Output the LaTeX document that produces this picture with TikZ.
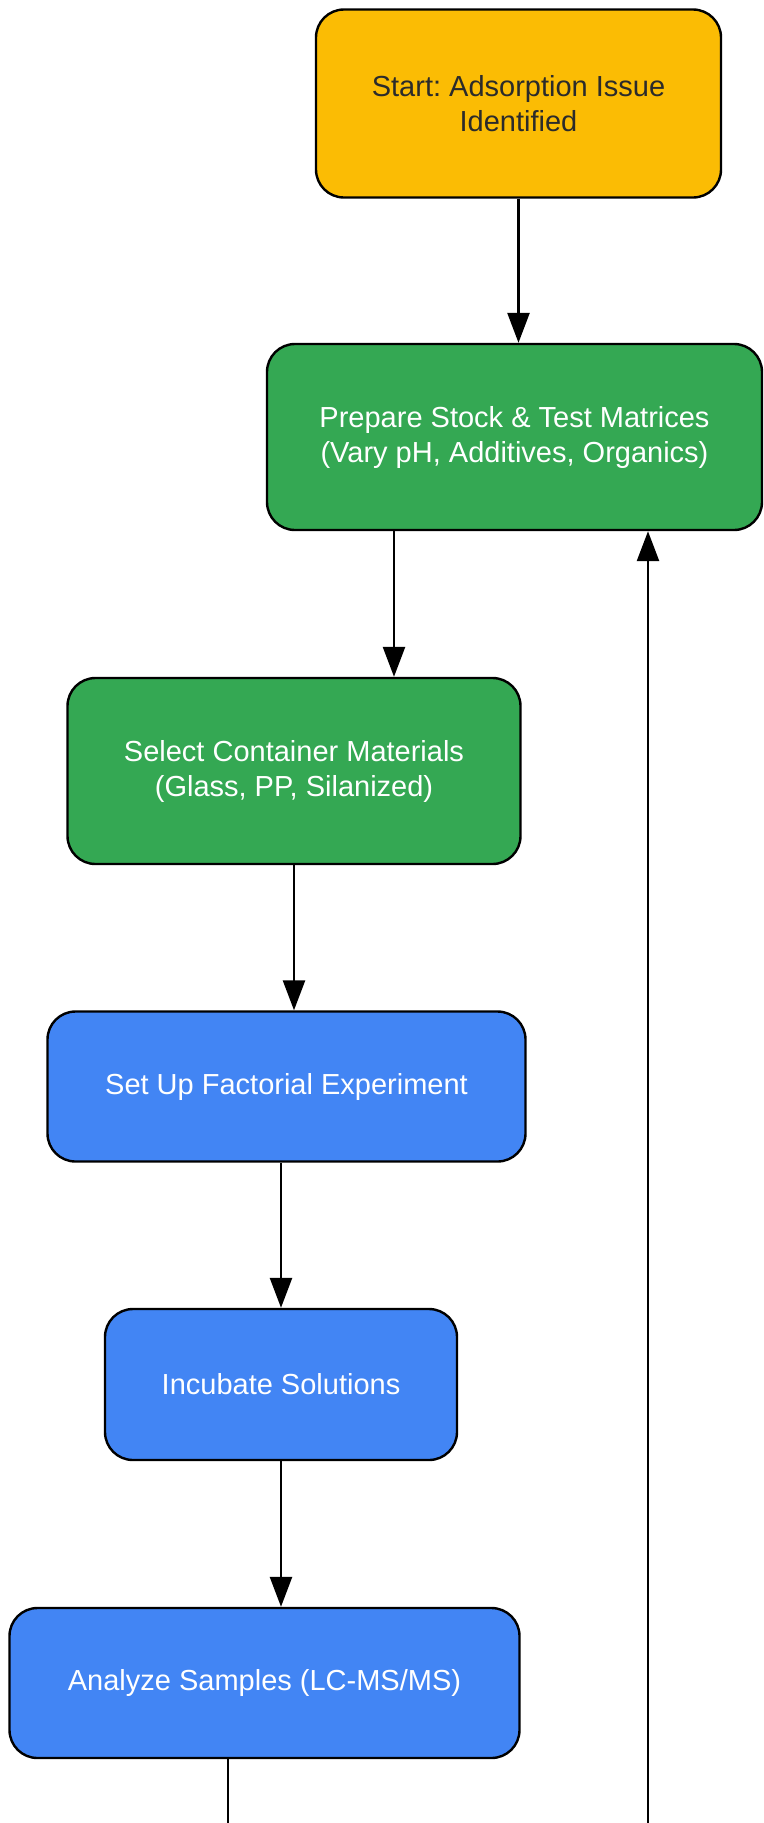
\documentclass[tikz,border=0pt]{standalone}
\usepackage{fontspec}
\setmainfont{Liberation Sans}
\usetikzlibrary{arrows.meta,positioning}
\definecolor{startyellow}{HTML}{FBBC04}
\definecolor{prepgreen}{HTML}{34A853}
\definecolor{runblue}{HTML}{4285F4}
\definecolor{darktext}{HTML}{2B2B2B}
\frenchspacing

\begin{document}
\begin{tikzpicture}[x=1pt,y=-1pt,
        box/.style={draw=black,line width=2.4pt,rounded corners=28pt,align=center,
            inner sep=0pt,text=white,font=\fontsize{29}{35}\selectfont},
        flow/.style={line width=2.6pt,-{Triangle[length=30pt,width=22pt]}}]
    \useasboundingbox (0,0) rectangle (763,1823);
    \node[box,fill=startyellow,text=darktext,minimum width=405pt,minimum height=188pt]
        (start) at (518.5,103.5) {Start: Adsorption Issue\\Identified};
    \node[box,fill=prepgreen,minimum width=495pt,minimum height=186pt]
        (prep) at (514.5,437) {Prepare Stock \& Test Matrices\\(Vary pH, Additives, Organics)};
    \node[box,fill=prepgreen,minimum width=453pt,minimum height=186pt]
        (sel) at (294,771) {Select Container Materials\\(Glass, PP, Silanized)};
    \node[box,fill=runblue,minimum width=478pt,minimum height=150pt]
        (setup) at (286.5,1086.5) {Set Up Factorial Experiment};
    \node[box,fill=runblue,minimum width=352pt,minimum height=151pt]
        (inc) at (281,1384.5) {Incubate Solutions};
    \node[box,fill=runblue,minimum width=510pt,minimum height=150pt]
        (ana) at (264.5,1683) {Analyze Samples (LC-MS/MS)};
    % where the lines leave the picture
    \coordinate (p2s) at (394,0);
    \coordinate (loopout) at (228,1823);
    \coordinate (loopin) at (648,1823);
    \draw[flow] (start.south) -- (start.south |- prep.north);
    \draw[flow] (p2s |- prep.south) -- (p2s |- sel.north);
    \draw[flow] (sel.south) -- (sel.south |- setup.north);
    \draw[flow] (setup.south -| inc.north) -- (inc.north);
    \draw[flow] (inc.south) -- (inc.south |- ana.north);
    \draw[line width=2.6pt] (ana.south -| loopout) -- (loopout);
    \draw[flow] (loopin) -- (loopin |- prep.south);
\end{tikzpicture}
\end{document}
